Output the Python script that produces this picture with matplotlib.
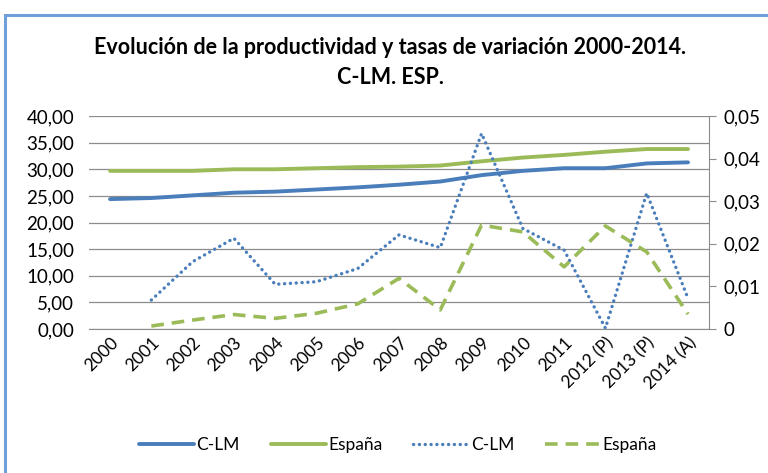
import matplotlib.pyplot as plt
from matplotlib.patches import Rectangle

plt.rcParams['font.family'] = ['Lato', 'DejaVu Sans']

years = ['2000', '2001', '2002', '2003', '2004', '2005', '2006', '2007',
         '2008', '2009', '2010', '2011', '2012 (P)', '2013 (P)', '2014 (A)']

# productividad (eje izquierdo)
prod_clm = [24.4, 24.6, 25.1, 25.6, 25.8, 26.2, 26.6, 27.1,
            27.7, 28.9, 29.7, 30.2, 30.2, 31.1, 31.3]
prod_esp = [29.7, 29.7, 29.7, 30.0, 30.0, 30.2, 30.4, 30.5,
            30.7, 31.5, 32.2, 32.7, 33.3, 33.8, 33.8]

# tasas de variacion (eje derecho), sin dato en 2000
tasa_clm = [None, 0.0068, 0.0158, 0.0213, 0.0105, 0.0111, 0.0142, 0.0221,
            0.0191, 0.0459, 0.0236, 0.0185, 0.0002, 0.0319, 0.0072]
tasa_esp = [None, 0.0007, 0.0021, 0.0034, 0.0025, 0.0037, 0.0059, 0.0119,
            0.0045, 0.0244, 0.0228, 0.0146, 0.0242, 0.0181, 0.0035]

blue = '#4A7EBB'
green = '#9BBB59'
x = list(range(len(years)))

fig = plt.figure(figsize=(7.68, 4.73), dpi=100)
ax = fig.add_axes([0.1164, 0.3044, 0.8063, 0.4503])
ax2 = ax.twinx()

l1, = ax.plot(x, prod_clm, color=blue, linewidth=2.8, solid_capstyle='round')
l2, = ax.plot(x, prod_esp, color=green, linewidth=2.8, solid_capstyle='round')

xt = [i for i, v in enumerate(tasa_clm) if v is not None]
l3, = ax2.plot(xt, [tasa_clm[i] for i in xt], color=blue, linewidth=2.4,
               linestyle=(0, (0.05, 1.7)), dash_capstyle='round')
l4, = ax2.plot(xt, [tasa_esp[i] for i in xt], color=green, linewidth=2.6,
               linestyle=(0, (3.5, 2.2)))

ax.set_xlim(-0.5, len(years) - 0.5)
ax.set_ylim(0, 40)
ax2.set_ylim(0, 0.05)

ax.set_yticks([0, 5, 10, 15, 20, 25, 30, 35, 40])
ax.set_yticklabels([('%.2f' % v).replace('.', ',') for v in ax.get_yticks()])
ax2.set_yticks([0, 0.01, 0.02, 0.03, 0.04, 0.05])
ax2.set_yticklabels(['0', '0,01', '0,02', '0,03', '0,04', '0,05'])

ax.grid(axis='y', color='#8C8C8C', linewidth=0.9)
ax.set_axisbelow(True)
ax.set_xticks(x)
ax.set_xticklabels(years, rotation=45, ha='right', rotation_mode='anchor')

for a in (ax, ax2):
    for s in ('top', 'left'):
        a.spines[s].set_visible(False)
ax.spines['right'].set_visible(False)
ax.spines['bottom'].set_color('#8C8C8C')
ax2.spines['bottom'].set_visible(False)
ax2.spines['right'].set_color('#8C8C8C')

ax.tick_params(axis='y', length=0, labelsize=13.5, pad=11)
ax.tick_params(axis='x', length=0, labelsize=12.5, pad=4)
ax2.tick_params(axis='y', length=5, color='#8C8C8C', labelsize=13.5, pad=6)

fig.text(0.508, 1 - 48 / 473, 'Evolución de la productividad y tasas de variación 2000-2014.',
         ha='center', va='center', fontsize=15.5, fontweight='bold')
fig.text(0.508, 1 - 78 / 473, 'C-LM. ESP.',
         ha='center', va='center', fontsize=15.5, fontweight='bold')

fig.legend([l1, l2, l3, l4], ['C-LM', 'España', 'C-LM', 'España'],
           loc='center', bbox_to_anchor=(0.518, 1 - 445 / 473), ncol=4,
           frameon=False, fontsize=12.5, handlelength=3.2, handletextpad=0.1,
           columnspacing=1.8)

fig.patches.append(Rectangle((5 / 768, -0.05), 1.1, 1 - 15 / 473 + 0.05,
                             transform=fig.transFigure, fill=False,
                             edgecolor='#6F9FD8', linewidth=2.2))

fig.savefig('out.png', dpi=100)
